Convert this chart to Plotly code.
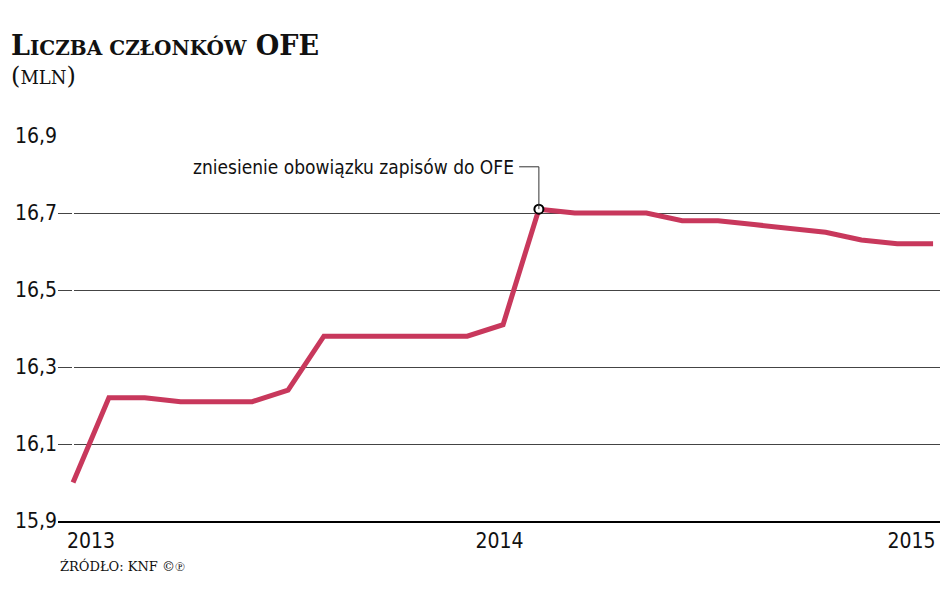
import plotly.graph_objects as go

months = list(range(25))
members = [16.00, 16.22, 16.22, 16.21, 16.21, 16.21, 16.24, 16.38, 16.38, 16.38, 16.38, 16.38, 16.41,
           16.71, 16.70, 16.70, 16.70, 16.68, 16.68, 16.67, 16.66, 16.65, 16.63, 16.62, 16.62]
year_pos = [0.5, 11.9, 23.4]
year_labels = ["2013", "2014", "2015"]
y_ticks = [15.9, 16.1, 16.3, 16.5, 16.7, 16.9]
y_labels = ["15,9", "16,1", "16,3", "16,5", "16,7", "16,9"]
event_idx = 13
event_text = "zniesienie obowiązku zapisów do OFE"

cond = "Liberation Sans Narrow, DejaVu Sans Condensed, Roboto"
fig = go.Figure()
fig.add_trace(go.Scatter(x=months, y=members, mode="lines",
                         line=dict(color="#c8385c", width=5), hoverinfo="skip"))
fig.add_trace(go.Scatter(x=[months[event_idx]], y=[members[event_idx]], mode="markers",
                         marker=dict(color="white", size=9, line=dict(color="black", width=2))))
fig.add_shape(type="path", xref="x", yref="y",
              path=f"M {event_idx-0.55},16.82 L {event_idx},16.82 L {event_idx},{members[event_idx]}",
              line=dict(color="#333", width=1))
fig.add_annotation(x=event_idx-0.65, y=16.82, text=event_text, showarrow=False, xanchor="right",
                   font=dict(family=cond, size=19, color="#111"))
fig.add_annotation(xref="paper", yref="paper", x=-0.055, y=1.19, xanchor="left", yanchor="bottom",
                   text="<b>L<span style='font-size:20px'>ICZBA CZŁONKÓW</span> OFE</b>", showarrow=False,
                   font=dict(family="DejaVu Serif", size=27, color="#111"))
fig.add_annotation(xref="paper", yref="paper", x=-0.055, y=1.115, xanchor="left", yanchor="bottom",
                   text="(<span style='font-size:18px'>MLN</span>)", showarrow=False,
                   font=dict(family="DejaVu Serif", size=24, color="#111"))
fig.add_annotation(xref="paper", yref="paper", x=0.0, y=-0.09, xanchor="left", yanchor="top",
                   text="ŹRÓDŁO: KNF ©℗", showarrow=False,
                   font=dict(family="DejaVu Serif", size=13, color="#111"))
fig.update_layout(
    width=948, height=593, plot_bgcolor="white", paper_bgcolor="white", showlegend=False,
    margin=dict(l=50, r=0, t=128, b=80),
    xaxis=dict(range=[-0.42, 24.64], tickvals=year_pos, ticktext=year_labels, showgrid=False,
               showline=True, linecolor="black", linewidth=2, ticks="",
               tickfont=dict(family=cond, size=21, color="#111")),
    yaxis=dict(range=[15.9, 16.9], tickvals=y_ticks, ticktext=y_labels, gridcolor="#444",
               gridwidth=1, zeroline=False, ticks="",
               tickfont=dict(family=cond, size=21, color="#111")),
)
fig.write_html("out.html")
